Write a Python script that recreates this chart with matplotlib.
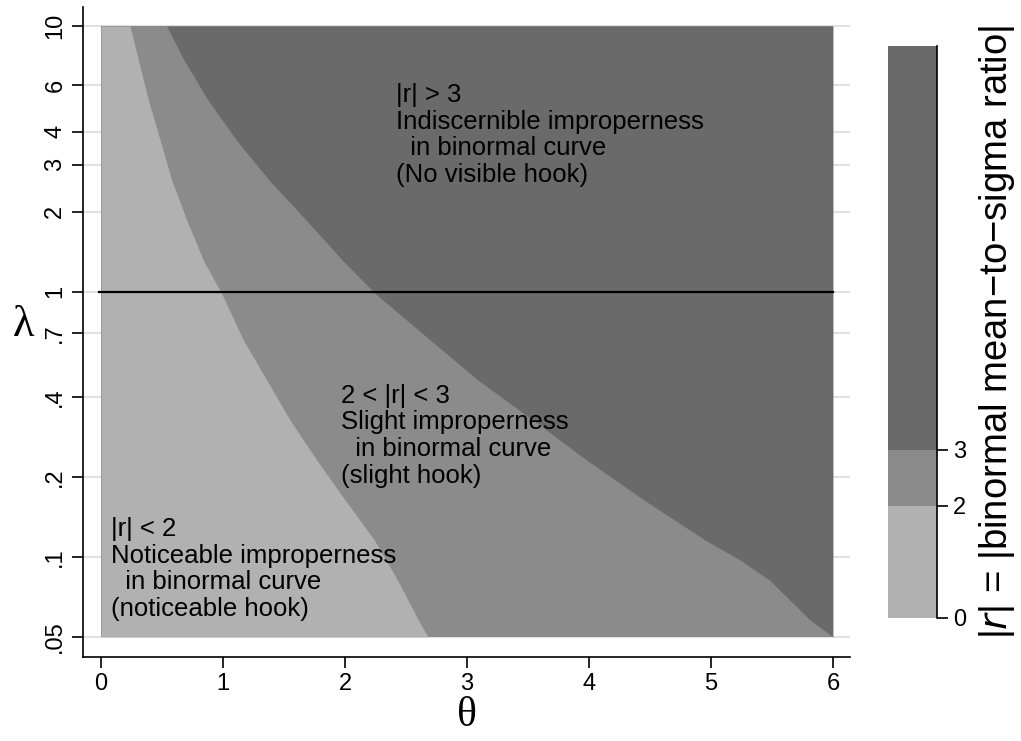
import matplotlib
matplotlib.use("Agg")
import matplotlib.pyplot as plt
import numpy as np

plt.rcParams['font.family'] = ['Liberation Sans', 'DejaVu Sans']

# Boundary |r| = 2 (between light and medium regions): lambda -> theta
lam_r2 = [10, 7.45, 5.26, 3.72, 2.63, 1.86, 1.31, 0.98, 0.656, 0.464, 0.328,
          0.232, 0.164, 0.116, 0.0819, 0.058, 0.05]
theta_r2 = [0.238, 0.306, 0.388, 0.484, 0.579, 0.702, 0.839, 0.99, 1.167, 1.358, 1.549,
            1.768, 2.00, 2.24, 2.43, 2.60, 2.68]

# Boundary |r| = 3 (between medium and dark regions)
lam_r3 = [10, 7.45, 5.26, 3.72, 2.63, 1.86, 1.31, 0.98, 0.656, 0.464, 0.328,
          0.232, 0.164, 0.116, 0.0974, 0.0819, 0.058, 0.05]
theta_r3 = [0.537, 0.68, 0.877, 1.109, 1.377, 1.68, 1.98, 2.25, 2.70, 3.09, 3.54,
            3.98, 4.45, 4.95, 5.24, 5.48, 5.81, 6.0]

theta_range = [0, 6]
lam_range = [0.05, 10]
ref_lambda = 1

ytick_vals = [10, 6, 4, 3, 2, 1, 0.7, 0.4, 0.2, 0.1, 0.05]
ytick_labels = ["10", "6", "4", "3", "2", "1", ".7", ".4", ".2", ".1", ".05"]
xtick_vals = [0, 1, 2, 3, 4, 5, 6]

cb_bounds = [0, 2, 3]
cb_max = 10.2

c_light = "#b1b1b1"
c_med = "#8b8b8b"
c_dark = "#6a6a6a"
grid_c = "#e1e1e1"

texts = [
    (2.42, 6.1, "|r| > 3\nIndiscernible improperness\n  in binormal curve\n(No visible hook)"),
    (1.97, 0.449, "2 < |r| < 3\nSlight improperness\n  in binormal curve\n(slight hook)"),
    (0.08, 0.141, "|r| < 2\nNoticeable improperness\n  in binormal curve\n(noticeable hook)"),
]

fig = plt.figure(figsize=(10.21, 7.41), dpi=100)
ax = fig.add_axes([83/1021, 1-656.7/741, (850-83)/1021, (656.7-7)/741])
ax.set_yscale('log')
ax.set_xlim(-0.148, 6.14)
ax.set_ylim(0.0421, 11.8)

for v in ytick_vals:
    ax.axhline(v, color=grid_c, lw=1.5, zorder=0)

# medium background region
ax.fill_betweenx(lam_range, theta_range[0], theta_range[1], color=c_med, lw=0, zorder=1)
# light region
ax.fill_betweenx(lam_r2, theta_range[0], theta_r2, color=c_light, lw=0, zorder=2)
# dark region
ax.fill_betweenx(lam_r3, theta_r3, theta_range[1], color=c_dark, lw=0, zorder=2)

ax.plot([-0.02, theta_range[1]], [ref_lambda, ref_lambda], color='black', lw=1.6, zorder=3)

for x, y, s in texts:
    ax.text(x, y, s, fontsize=18.5, va='top', ha='left', linespacing=1.135, zorder=4)

for sp in ['top', 'right']:
    ax.spines[sp].set_visible(False)
for sp in ['left', 'bottom']:
    ax.spines[sp].set_linewidth(1.2)

ax.set_xticks(xtick_vals)
ax.set_xticklabels([str(v) for v in xtick_vals], fontsize=17)
ax.set_yticks(ytick_vals)
ax.set_yticklabels(ytick_labels, fontsize=17, rotation=90, va='center')
ax.yaxis.set_minor_locator(matplotlib.ticker.NullLocator())
ax.tick_params(axis='both', length=8, width=1.2, direction='out', pad=4)

fig.text(467/1021, 1-716/741, "θ", fontsize=30, family=['Liberation Serif', 'DejaVu Serif'],
         ha='center', va='center')
fig.text(24/1021, 1-325/741, "λ", fontsize=32, family=['Liberation Serif', 'DejaVu Serif'],
         ha='center', va='center')

# colorbar
cax = fig.add_axes([888/1021, 1-618/741, (936.7-888)/1021, (618-45.7)/741])
heights = [cb_bounds[1]-cb_bounds[0], cb_bounds[2]-cb_bounds[1], cb_max-cb_bounds[2]]
cax.bar([0.5]*3, heights, bottom=cb_bounds, width=1.0, color=[c_light, c_med, c_dark], lw=0)
cax.set_xlim(0, 1)
cax.set_ylim(0, cb_max)
for sp in ['top', 'left', 'bottom']:
    cax.spines[sp].set_visible(False)
cax.spines['right'].set_linewidth(1.2)
cax.set_xticks([])
cax.yaxis.tick_right()
cax.set_yticks(cb_bounds)
cax.set_yticklabels([str(v) for v in cb_bounds], fontsize=17)
cax.tick_params(axis='y', length=8, width=1.2, pad=4)

fig.text(997/1021, 1-332/741, r"|$\mathit{r}$| = |binormal mean−to−sigma ratio|",
         fontsize=27.5, rotation=90, ha='center', va='center')

fig.savefig("out.png", dpi=100)
